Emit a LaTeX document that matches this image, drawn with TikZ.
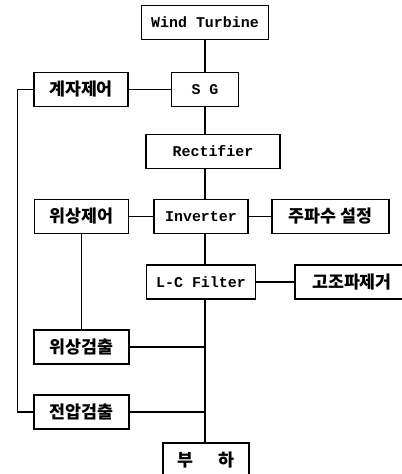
\documentclass[tikz,border=0pt]{standalone}
\usepackage{fontspec}
\setmonofont{Liberation Mono}
\newfontfamily\kr{Noto Sans CJK KR}

\begin{document}
\begin{tikzpicture}[x=0.75pt, y=-0.75pt, line width=0.8pt,
  blk/.style = {draw, line width=0.9pt, inner sep=0pt, minimum height=25.5pt,
    font=\ttfamily\bfseries\fontsize{11.2}{13}\selectfont},
  krblk/.style = {blk, font=\kr\bfseries\fontsize{13}{15}\selectfont}]
\useasboundingbox (0,0) rectangle (401,474);
% main chain
\node[blk, minimum width=95.25pt] (wt) at (205,22.5) {Wind Turbine};
\node[blk, minimum width=50.25pt] (sg) at (205,89.5) {S G};
\node[blk, minimum width=100.5pt] (rect) at (213,151.5) {Rectifier};
\node[blk, minimum width=70.5pt] (inv) at (201,216.5) {Inverter};
\node[blk, minimum width=81.75pt] (lc) at (201,282) {L-C Filter};
\node[krblk, minimum width=64.5pt] (load) at (206,460) {부\hspace{1.4em}하};
% control blocks
\node[krblk, minimum width=70.5pt] (gj) at (81,89.5) {계자제어};
\node[krblk, minimum width=70.5pt] (wsj) at (81.5,216.5) {위상제어};
\node[krblk, minimum width=87.75pt] (jps) at (330.5,216.5) {주파수 설정};
\node[krblk, minimum width=85.5pt] (gjp) at (352,282) {고조파제거};
\node[krblk, minimum width=71.25pt] (wsg) at (81.5,347) {위상검출};
\node[krblk, minimum width=71.25pt] (jag) at (81.5,412) {전압검출};
\draw (wt) -- (sg);
\draw (sg) -- (sg |- rect.north);
\draw (sg |- rect.south) -- (sg |- inv.north);
\draw (sg |- inv.south) -- (sg |- lc.north);
\draw (sg |- lc.south) -- (sg |- load.north);
\draw (gj) -- (sg);
\draw (wsj) -- (inv);
\draw (inv) -- (jps);
\draw (lc) -- (gjp);
\draw (wsj) -- (wsg);
\draw (wsg.east) -- (wsg -| sg);
\draw (jag.east) -- (jag -| sg);
\draw (gj.west) -- ++(-16,0) |- (jag.west);
\end{tikzpicture}
\end{document}
